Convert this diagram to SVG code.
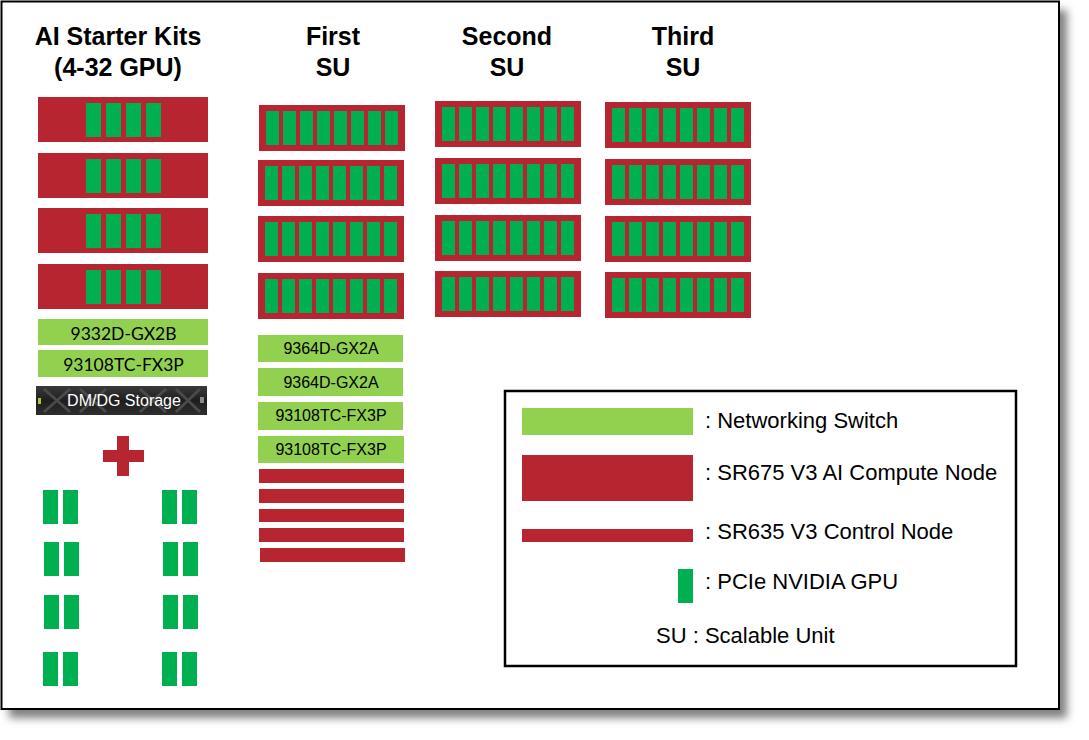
<svg xmlns="http://www.w3.org/2000/svg" xmlns:xlink="http://www.w3.org/1999/xlink" width="1089" height="740" viewBox="0 0 1089 740">
<style>
.red{fill:#B72530}
.gpu{fill:#00AF50}
.sw{fill:#92D050}
.title{font-family:"Liberation Sans",Arial,sans-serif;font-weight:bold;font-size:25px;fill:#000;text-anchor:middle}
.swt{font-family:"Liberation Sans",Arial,sans-serif;font-size:16px;fill:#000;text-anchor:middle}
.kswt{font-family:Lato,"Liberation Sans",sans-serif;font-size:17.5px;fill:#000;text-anchor:middle}
.lg{font-family:"Liberation Sans",Arial,sans-serif;font-size:22px;fill:#000}
</style>
<defs>
<filter id="blur" x="-5%" y="-5%" width="110%" height="110%"><feGaussianBlur stdDeviation="4"/></filter>
<linearGradient id="stor" x1="0" y1="0" x2="0" y2="1">
<stop offset="0" stop-color="#3a3a3a"/><stop offset="0.5" stop-color="#1e1e1e"/><stop offset="1" stop-color="#2e2e2e"/>
</linearGradient>
<g id="su">
<rect class="red" x="0" y="0" width="146" height="46"/>
<rect class="gpu" x="7" y="6" width="13" height="34"/>
<rect class="gpu" x="24" y="6" width="13" height="34"/>
<rect class="gpu" x="41" y="6" width="13" height="34"/>
<rect class="gpu" x="58" y="6" width="13" height="34"/>
<rect class="gpu" x="75" y="6" width="13" height="34"/>
<rect class="gpu" x="92" y="6" width="13" height="34"/>
<rect class="gpu" x="109" y="6" width="13" height="34"/>
<rect class="gpu" x="126" y="6" width="13" height="34"/>
</g>
<g id="kit">
<rect class="red" x="0" y="0" width="170" height="45"/>
<rect class="gpu" x="48" y="6" width="15" height="34"/>
<rect class="gpu" x="68" y="6" width="15" height="34"/>
<rect class="gpu" x="88" y="6" width="15" height="34"/>
<rect class="gpu" x="108" y="6" width="15" height="34"/>
</g>
<g id="pair">
<rect class="gpu" x="0" y="0" width="15" height="34"/>
<rect class="gpu" x="20" y="0" width="15" height="34"/>
</g>
</defs>

<g id="frame">
<rect x="9" y="10" width="1058" height="708" fill="#808080" filter="url(#blur)"/>
<rect x="1.5" y="1.5" width="1057.5" height="707.5" fill="#fff" stroke="#000" stroke-width="2"/>
</g>

<g id="titles">
<text class="title" x="118" y="45">AI Starter Kits</text>
<text class="title" x="118" y="76">(4-32 GPU)</text>
<text class="title" x="333" y="45">First</text>
<text class="title" x="333" y="76">SU</text>
<text class="title" x="507" y="45">Second</text>
<text class="title" x="507" y="76">SU</text>
<text class="title" x="683" y="45">Third</text>
<text class="title" x="683" y="76">SU</text>
</g>

<g id="starter-kits">
<g id="kit-node-1"><use xlink:href="#kit" x="38" y="97"/></g>
<g id="kit-node-2"><use xlink:href="#kit" x="38" y="153"/></g>
<g id="kit-node-3"><use xlink:href="#kit" x="38" y="208"/></g>
<g id="kit-node-4"><use xlink:href="#kit" x="38" y="264"/></g>
<g id="kit-switch-1"><rect class="sw" x="38" y="319" width="170" height="26"/><text class="kswt" x="123.5" y="339.5">9332D-GX2B</text></g>
<g id="kit-switch-2"><rect class="sw" x="38" y="350" width="170" height="27"/><text class="kswt" x="123.5" y="370.5">93108TC-FX3P</text></g>
<g id="kit-storage">
<rect x="36" y="386" width="171" height="29" fill="url(#stor)"/>
<path d="M44 389 L70 412 M70 389 L44 412 M80 389 L106 412 M106 389 L80 412 M140 389 L166 412 M166 389 L140 412 M176 389 L200 412 M200 389 L176 412" stroke="#4a4a4a" stroke-width="3" fill="none"/>
<rect x="38" y="398" width="3" height="6" fill="#b8c040"/>
<rect x="200" y="397" width="4" height="6" fill="#888"/>
<text x="124" y="406" style="font-family:'Liberation Sans',Arial,sans-serif;font-size:16px;fill:#fff;text-anchor:middle">DM/DG Storage</text>
</g>
<g id="plus">
<rect class="red" x="117" y="436" width="12" height="40"/>
<rect class="red" x="103" y="450" width="41" height="12"/>
</g>
<g id="gpus">
<use xlink:href="#pair" x="43" y="490"/>
<use xlink:href="#pair" x="44" y="542"/>
<use xlink:href="#pair" x="44" y="595"/>
<use xlink:href="#pair" x="43" y="652"/>
<use xlink:href="#pair" x="162" y="490"/>
<use xlink:href="#pair" x="163" y="542"/>
<use xlink:href="#pair" x="163" y="595"/>
<use xlink:href="#pair" x="162" y="652"/>
</g>
</g>

<g id="first-su">
<g id="su1-node-1"><use xlink:href="#su" x="259" y="105"/></g>
<g id="su1-node-2"><use xlink:href="#su" x="258" y="160"/></g>
<g id="su1-node-3"><use xlink:href="#su" x="258" y="216"/></g>
<g id="su1-node-4"><use xlink:href="#su" x="258" y="273"/></g>
<g id="su1-switch-1"><rect class="sw" x="258" y="335" width="145" height="27"/><text class="swt" x="331" y="354">9364D-GX2A</text></g>
<g id="su1-switch-2"><rect class="sw" x="258" y="368" width="145" height="28"/><text class="swt" x="331" y="388">9364D-GX2A</text></g>
<g id="su1-switch-3"><rect class="sw" x="258" y="402" width="145" height="28"/><text class="swt" x="331" y="421">93108TC-FX3P</text></g>
<g id="su1-switch-4"><rect class="sw" x="258" y="436" width="146" height="27"/><text class="swt" x="331" y="455">93108TC-FX3P</text></g>
<g id="su1-ctrl-1"><rect class="red" x="259" y="469" width="145" height="14"/></g>
<g id="su1-ctrl-2"><rect class="red" x="259" y="489" width="145" height="14"/></g>
<g id="su1-ctrl-3"><rect class="red" x="259" y="509" width="145" height="13"/></g>
<g id="su1-ctrl-4"><rect class="red" x="259" y="528" width="145" height="14"/></g>
<g id="su1-ctrl-5"><rect class="red" x="260" y="548" width="145" height="14"/></g>
</g>

<g id="second-su">
<g id="su2-node-1"><use xlink:href="#su" x="435" y="101"/></g>
<g id="su2-node-2"><use xlink:href="#su" x="435" y="158"/></g>
<g id="su2-node-3"><use xlink:href="#su" x="435" y="215"/></g>
<g id="su2-node-4"><use xlink:href="#su" x="435" y="271"/></g>
</g>

<g id="third-su">
<g id="su3-node-1"><use xlink:href="#su" x="605" y="102"/></g>
<g id="su3-node-2"><use xlink:href="#su" x="605" y="159"/></g>
<g id="su3-node-3"><use xlink:href="#su" x="605" y="216"/></g>
<g id="su3-node-4"><use xlink:href="#su" x="605" y="272"/></g>
</g>

<g id="legend">
<rect x="505" y="391" width="511" height="275" fill="none" stroke="#000" stroke-width="2.5"/>
<g id="legend-switch"><rect class="sw" x="522" y="408" width="171" height="27"/><text class="lg" x="705" y="428">: Networking Switch</text></g>
<g id="legend-compute"><rect class="red" x="522" y="455" width="171" height="46"/><text class="lg" x="705" y="480">: SR675 V3 AI Compute Node</text></g>
<g id="legend-control"><rect class="red" x="522" y="529" width="171" height="13"/><text class="lg" x="705" y="539">: SR635 V3 Control Node</text></g>
<g id="legend-gpu"><rect class="gpu" x="678" y="569" width="15" height="34"/><text class="lg" x="705" y="589">: PCIe NVIDIA GPU</text></g>
<g id="legend-su"><text class="lg" x="656" y="643">SU : Scalable Unit</text></g>
</g>
</svg>
